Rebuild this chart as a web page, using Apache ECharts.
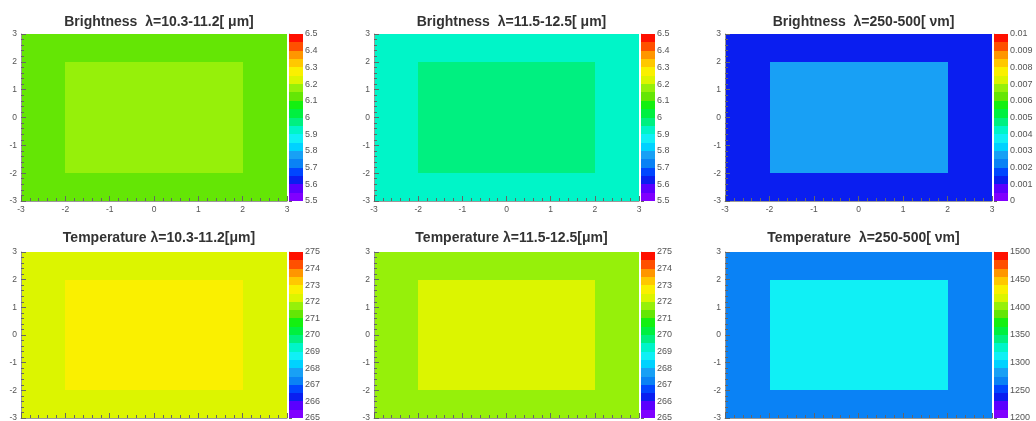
<!DOCTYPE html>
<html><head><meta charset="utf-8">
<script src="https://cdn.jsdelivr.net/npm/echarts@6/dist/echarts.min.js"></script>
<style>html,body{margin:0;padding:0;background:#fff}#c{width:1036px;height:421px}</style>
</head><body><div id="c"></div>
<script>
// ---- data ----
const panelTitles = [
  'Brightness  λ=10.3-11.2[ μm]',
  'Brightness  λ=11.5-12.5[ μm]',
  'Brightness  λ=250-500[ νm]',
  'Temperature λ=10.3-11.2[μm]',
  'Temperature λ=11.5-12.5[μm]',
  'Temperature  λ=250-500[ νm]'
];
const zMin = [5.5, 5.5, 0, 265, 265, 1200];
const zMax = [6.5, 6.5, 0.01, 275, 275, 1500];
const zTickStep = [0.1, 0.1, 0.001, 1, 1, 50];
const outerValues = [6.12, 5.92, 0.0012, 272.2, 271.7, 1265];
const innerValues = [6.17, 5.97, 0.0027, 272.7, 272.2, 1310];
const binLowX = [-3, -2, -1, 0, 1, 2];
const binLowY = [-3, -2, -1, 0, 1, 2];
const binWidth = 1;
// 1 = inner square bin, 0 = outer frame bin (rows from y=-3 upward)
const regionMask = [
  [0,0,0,0,0,0],
  [0,1,1,1,1,0],
  [0,1,1,1,1,0],
  [0,1,1,1,1,0],
  [0,1,1,1,1,0],
  [0,0,0,0,0,0]
];
const axisMin = -3, axisMax = 3, axisStep = 1;
const nLevels = 20;
const palette = [
  '#8000ff','#5a00ff','#0a1ef0','#0046ff','#0a82f5','#18a0f5','#00d2ff','#10f0f5',
  '#00f5c8','#00f080','#00f040','#14f010','#64e605','#96f00a','#dcf500','#faf000',
  '#ffc800','#ff9600','#ff5000','#ff1000'
];

// ---- layout ----
const plotLeft = [21, 374, 725];
const plotWidth = [266, 265, 267];
const rowTop = [34, 252];
const plotHeight = [167, 166];
const titleTop = [10, 226];
const barGap = 2, barWidth = 14;
const FONT = 'Liberation Sans, Arial, sans-serif';
const fmt = v => String(+(+v).toFixed(6));

const grids = [], xAxes = [], yAxes = [], series = [], visualMaps = [], titles = [];
for (let p = 0; p < 6; p++) {
  const col = p % 3, row = Math.floor(p / 3);
  const L = plotLeft[col], W = plotWidth[col], T = rowTop[row], H = plotHeight[row];
  grids.push({left: L, top: T, width: W, height: H, containLabel: false, outerBoundsMode: 'none'});
  grids.push({left: L + W + barGap, top: T, width: barWidth, height: H, containLabel: false, outerBoundsMode: 'none'});
  const gHeat = 2 * p, gBar = 2 * p + 1;
  const axCommon = {
    type: 'value', min: axisMin, max: axisMax, interval: axisStep,
    axisLine: {show: true, onZero: false, lineStyle: {color: '#999', width: 1}},
    axisTick: {show: true, inside: true, length: 5, lineStyle: {color: '#666', width: 1}},
    minorTick: {show: true, splitNumber: 5, length: 3, lineStyle: {color: '#666', width: 1}},
    splitLine: {show: false}, minorSplitLine: {show: false},
    axisLabel: {fontSize: 8.5, color: '#555', fontFamily: FONT, margin: 4, showMinLabel: true, showMaxLabel: true},
    z: 10
  };
  xAxes.push(Object.assign({gridIndex: gHeat}, axCommon));
  yAxes.push(Object.assign({gridIndex: gHeat}, axCommon));
  xAxes.push({gridIndex: gBar, type: 'value', min: 0, max: 1, show: false});
  yAxes.push({
    gridIndex: gBar, type: 'value', position: 'right', min: zMin[p], max: zMax[p], interval: zTickStep[p],
    axisLine: {show: true, lineStyle: {color: '#aaa'}},
    axisTick: {show: true, length: 3, lineStyle: {color: '#666'}},
    splitLine: {show: false},
    axisLabel: {fontSize: 9, color: '#555', fontFamily: FONT, margin: 2, formatter: fmt}
  });
  const heatData = [];
  for (let j = 0; j < binLowY.length; j++)
    for (let i = 0; i < binLowX.length; i++)
      heatData.push([binLowX[i], binLowY[j], regionMask[j][i] ? innerValues[p] : outerValues[p]]);
  const step = (zMax[p] - zMin[p]) / nLevels;
  const bandData = [], pieces = [];
  for (let k = 0; k < nLevels; k++) {
    const lo = zMin[p] + k * step, hi = zMin[p] + (k + 1) * step;
    bandData.push([lo, hi, (lo + hi) / 2]);
    pieces.push({gte: lo, lt: hi, color: palette[k]});
  }
  const sHeat = series.length;
  series.push({
    type: 'custom', xAxisIndex: gHeat, yAxisIndex: gHeat, data: heatData, silent: true,
    encode: {x: 0, y: 1},
    renderItem: (params, api) => {
      const a = api.coord([api.value(0), api.value(1) + binWidth]);
      const b = api.coord([api.value(0) + binWidth, api.value(1)]);
      const x0 = Math.round(a[0]), y0 = Math.round(a[1]);
      const x1 = Math.round(b[0]), y1 = Math.round(b[1]);
      return {type: 'rect', shape: {x: x0, y: y0, width: x1 - x0, height: y1 - y0},
              style: {fill: api.visual('color'), stroke: null, lineWidth: 0}};
    }
  });
  const sBar = series.length;
  series.push({
    type: 'custom', xAxisIndex: gBar, yAxisIndex: gBar, data: bandData, silent: true,
    encode: {y: [0, 1]},
    renderItem: (params, api) => {
      const a = api.coord([0, api.value(1)]);
      const b = api.coord([1, api.value(0)]);
      const x0 = Math.round(a[0]), y0 = Math.round(a[1]);
      const x1 = Math.round(b[0]), y1 = Math.round(b[1]);
      return {type: 'rect', shape: {x: x0, y: y0, width: x1 - x0, height: y1 - y0},
              style: {fill: api.visual('color'), stroke: null, lineWidth: 0}};
    }
  });
  visualMaps.push({type: 'piecewise', show: false, dimension: 2, seriesIndex: [sHeat, sBar], pieces: pieces});
  titles.push({
    text: panelTitles[p], left: L + W / 2, top: titleTop[row], textAlign: 'center',
    textStyle: {fontSize: 14, fontWeight: 'bold', color: '#333', fontFamily: FONT}
  });
}

const chart = echarts.init(document.getElementById('c'), null, {renderer: 'canvas'});
chart.setOption({
  animation: false, backgroundColor: '#fff',
  title: titles, grid: grids, xAxis: xAxes, yAxis: yAxes, visualMap: visualMaps, series: series
});
</script></body></html>
